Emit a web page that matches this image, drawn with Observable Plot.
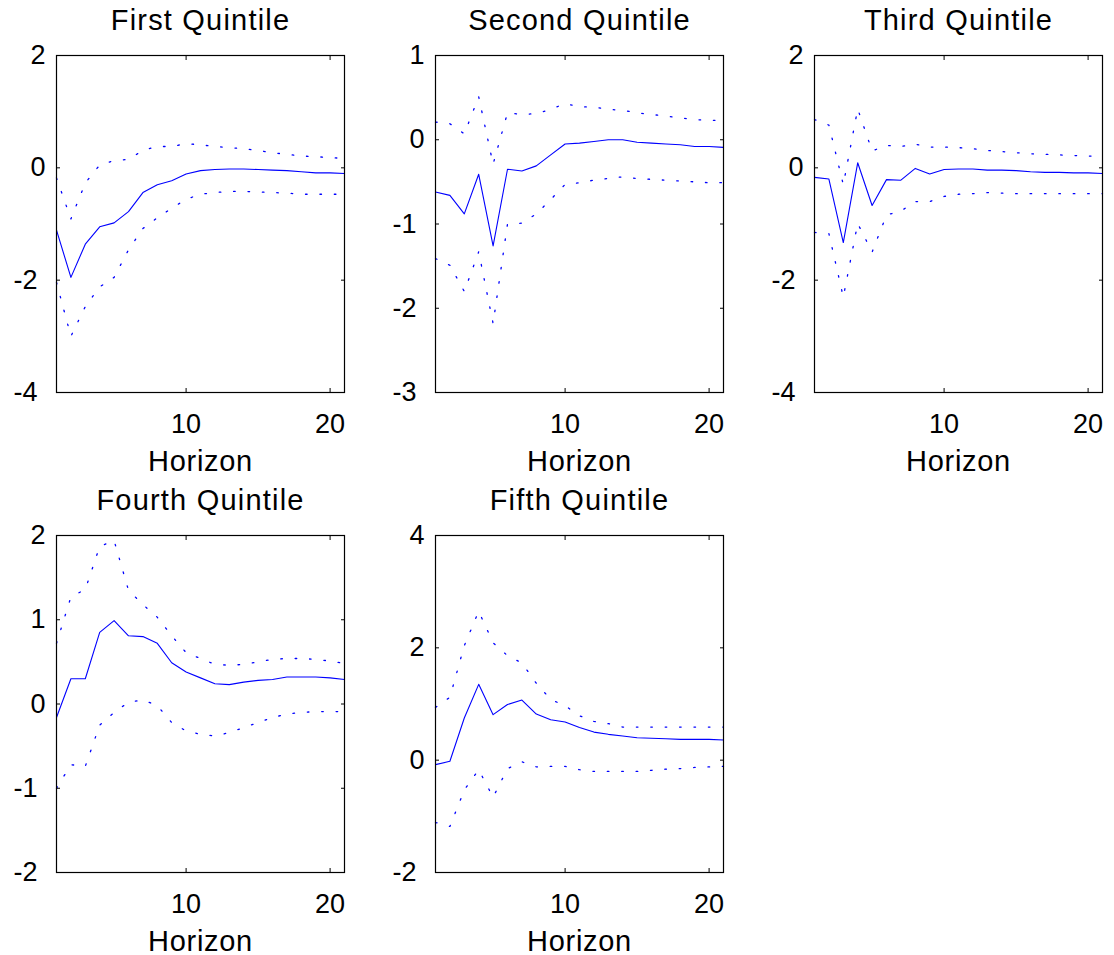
<!DOCTYPE html>
<html><head><meta charset="utf-8">
<script src="https://cdn.jsdelivr.net/npm/d3@7"></script>
<script src="https://cdn.jsdelivr.net/npm/@observablehq/plot@0.6"></script>
<style>
body{margin:0;background:#fff;}
#wrap{position:relative;width:1114px;height:955px;background:#fff;overflow:hidden;}
#wrap svg{position:absolute;background:transparent;}
</style></head><body><div id="wrap"></div>
<script>
const horizon = d3.range(1, 22);
const titles = ["First Quintile", "Second Quintile", "Third Quintile", "Fourth Quintile", "Fifth Quintile"];
const xTicks = [10, 20];

const q1Mid = [-1.11,-1.95,-1.36,-1.05,-0.98,-0.78,-0.44,-0.30,-0.23,-0.11,-0.05,-0.03,-0.02,-0.02,-0.03,-0.04,-0.05,-0.07,-0.09,-0.09,-0.10];
const q1Up  = [-0.18,-0.91,-0.27,0.05,0.13,0.15,0.31,0.38,0.38,0.43,0.41,0.38,0.36,0.34,0.31,0.27,0.24,0.21,0.20,0.18,0.17];
const q1Lo  = [-2.04,-3.00,-2.47,-2.12,-1.95,-1.46,-1.08,-0.89,-0.72,-0.56,-0.47,-0.44,-0.42,-0.42,-0.43,-0.44,-0.45,-0.47,-0.47,-0.47,-0.47];

const q2Mid = [-0.62,-0.66,-0.88,-0.41,-1.26,-0.35,-0.37,-0.31,-0.18,-0.05,-0.04,-0.02,0.00,0.00,-0.03,-0.04,-0.05,-0.06,-0.08,-0.08,-0.09];
const q2Up  = [0.21,0.19,0.07,0.51,-0.29,0.32,0.30,0.31,0.36,0.43,0.39,0.39,0.36,0.35,0.32,0.30,0.28,0.26,0.24,0.23,0.23];
const q2Lo  = [-1.41,-1.49,-1.80,-1.33,-2.18,-1.00,-0.99,-0.88,-0.71,-0.53,-0.51,-0.48,-0.46,-0.44,-0.46,-0.47,-0.48,-0.49,-0.50,-0.51,-0.51];

const q3Mid = [-0.17,-0.20,-1.33,0.09,-0.67,-0.21,-0.22,-0.01,-0.11,-0.03,-0.02,-0.02,-0.04,-0.04,-0.05,-0.07,-0.08,-0.08,-0.09,-0.09,-0.10];
const q3Up  = [0.86,0.76,-0.30,1.05,0.30,0.40,0.38,0.42,0.37,0.37,0.36,0.34,0.31,0.29,0.27,0.25,0.24,0.23,0.22,0.21,0.21];
const q3Lo  = [-1.15,-1.17,-2.30,-0.99,-1.50,-0.84,-0.77,-0.60,-0.60,-0.51,-0.47,-0.46,-0.44,-0.45,-0.46,-0.46,-0.46,-0.46,-0.46,-0.46,-0.46];

const q4Mid = [-0.16,0.30,0.30,0.85,0.99,0.81,0.80,0.72,0.49,0.38,0.31,0.24,0.23,0.26,0.28,0.29,0.32,0.32,0.32,0.31,0.29];
const q4Up  = [0.72,1.27,1.36,1.87,1.94,1.35,1.18,1.03,0.81,0.61,0.54,0.47,0.46,0.47,0.50,0.53,0.54,0.54,0.53,0.51,0.48];
const q4Lo  = [-1.00,-0.72,-0.74,-0.25,-0.10,0.02,0.05,-0.02,-0.22,-0.32,-0.36,-0.38,-0.34,-0.28,-0.22,-0.16,-0.12,-0.10,-0.09,-0.09,-0.09];

const q5Mid = [-0.08,-0.02,0.75,1.35,0.81,0.99,1.07,0.82,0.72,0.68,0.58,0.50,0.46,0.43,0.40,0.39,0.38,0.37,0.37,0.37,0.36];
const q5Up  = [0.94,1.12,2.04,2.65,2.09,1.86,1.73,1.37,1.08,0.97,0.79,0.69,0.65,0.59,0.59,0.59,0.59,0.59,0.59,0.59,0.59];
const q5Lo  = [-1.11,-1.18,-0.53,-0.17,-0.66,-0.15,-0.03,-0.12,-0.11,-0.11,-0.17,-0.20,-0.20,-0.20,-0.20,-0.18,-0.16,-0.15,-0.13,-0.12,-0.11];

const yDomains = [[-4, 2], [-3, 1], [-4, 2], [-2, 2], [-2, 4]];
const yTicks = [[-4, -2, 0, 2], [-3, -2, -1, 0, 1], [-4, -2, 0, 2], [-2, -1, 0, 1, 2], [-2, 0, 2, 4]];
const series = [[q1Mid, q1Up, q1Lo], [q2Mid, q2Up, q2Lo], [q3Mid, q3Up, q3Lo], [q4Mid, q4Up, q4Lo], [q5Mid, q5Up, q5Lo]];

const panelLeft = [0, 379, 758, 0, 379];
const panelTop = [0, 0, 0, 480, 480];
const blue = "#0000ff";
const font = "'Liberation Sans', Arial, Helvetica, sans-serif";
const wrap = document.getElementById("wrap");

series.forEach(([mid, up, lo], k) => {
  const rows = horizon.map((h, i) => ({h, mid: mid[i], up: up[i], lo: lo[i]}));
  const yt = yTicks[k];
  const noText = () => "";
  const fmt = d => (d < 0 ? "-" : "") + String(Math.abs(d));
  const svg = Plot.plot({
    width: 379,
    height: 480,
    marginLeft: 56,
    marginRight: 35,
    marginTop: 55,
    marginBottom: 88,
    style: {fontFamily: font, fontSize: "27px", color: "black", background: "transparent", overflow: "visible"},
    x: {domain: [1, 21], label: null},
    y: {domain: yDomains[k], label: null},
    marks: [
      Plot.line(rows, {x: "h", y: "up", stroke: blue, strokeWidth: 1.3, strokeDasharray: "1.6,12.8"}),
      Plot.line(rows, {x: "h", y: "lo", stroke: blue, strokeWidth: 1.3, strokeDasharray: "1.6,12.8"}),
      Plot.line(rows, {x: "h", y: "mid", stroke: blue, strokeWidth: 1.1}),
      Plot.frame({stroke: "black", strokeWidth: 1.2}),
      Plot.axisX({anchor: "bottom", ticks: xTicks, tickSize: -4, tickFormat: noText, label: null}),
      Plot.axisX({anchor: "top", ticks: xTicks, tickSize: -4, tickFormat: noText, label: null}),
      Plot.axisY({anchor: "left", ticks: yt, tickSize: -4, tickFormat: noText, label: null}),
      Plot.axisY({anchor: "right", ticks: yt, tickSize: -4, tickFormat: noText, label: null}),
      Plot.axisX({anchor: "bottom", ticks: xTicks, tickSize: 0, tickPadding: 21, label: null, fill: "black", tickFormat: fmt}),
      Plot.axisY({anchor: "left", ticks: yt.filter(v => v >= 0), tickSize: 0, tickPadding: 11, label: null, fill: "black", tickFormat: fmt}),
      Plot.axisY({anchor: "left", ticks: yt.filter(v => v < 0), tickSize: 0, tickPadding: 19, label: null, fill: "black", tickFormat: fmt}),
      Plot.text([titles[k]], {frameAnchor: "top", lineAnchor: "bottom", dy: -26, text: d => d, fontSize: 29, fill: "black"}),
      Plot.text(["Horizon"], {frameAnchor: "bottom", lineAnchor: "bottom", dy: 78, text: d => d, fontSize: 29, fill: "black"})
    ]
  });
  svg.style.left = panelLeft[k] + "px";
  svg.style.top = panelTop[k] + "px";
  svg.querySelectorAll("text").forEach(t => {
    if (t.textContent === titles[k]) t.setAttribute("letter-spacing", "1.2");
    if (t.textContent === "Horizon") t.setAttribute("letter-spacing", "0.7");
  });
  wrap.appendChild(svg);
});
</script></body></html>
